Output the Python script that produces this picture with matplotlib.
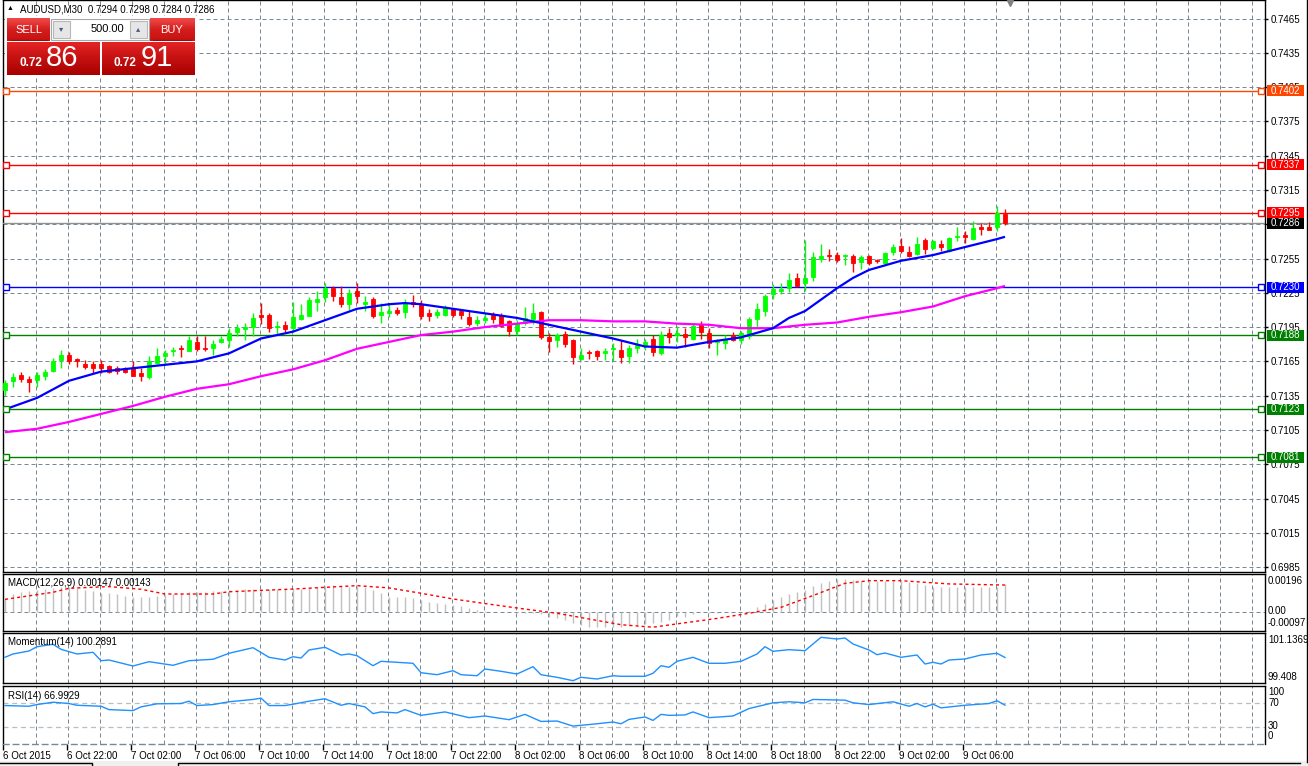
import numpy as np
import matplotlib
matplotlib.use('Agg')
import matplotlib.pyplot as plt
from matplotlib.transforms import blended_transform_factory
from matplotlib.patches import Rectangle
from matplotlib.colors import LinearSegmentedColormap

# ---------------- DATA (AUDUSD, M30) ----------------
opens = [
    .7140, .7148, .7153, .7150, .7149, .7152, .7157, .7166, .7171, .7167,
    .7163, .7163, .7163, .7161, .7159, .7159, .7159, .7155, .7151, .7164,
    .7170, .7174, .7177, .7174, .7182, .7177, .7177, .7182, .7184, .7191,
    .7193, .7195, .7206, .7206, .7195, .7197, .7194, .7202, .7205, .7217,
    .7221, .7229, .7221, .7215, .7227, .7215, .7220, .7206, .7207, .7210,
    .7208, .7217, .7215, .7207, .7206, .7206, .7211, .7209, .7204, .7199,
    .7201, .7206, .7205, .7200, .7192, .7199, .7202, .7208, .7186, .7184,
    .7189, .7184, .7167, .7173, .7174, .7172, .7176, .7175, .7170, .7177,
    .7179, .7185, .7172, .7190, .7188, .7189, .7185, .7198, .7190, .7182,
    .7181, .7188, .7184, .7187, .7202, .7209, .7224, .7227, .7229, .7238,
    .7234, .7239, .7255, .7258, .7258, .7257, .7257, .7252, .7257, .7254,
    .7251, .7261, .7266, .7261, .7259, .7271, .7264, .7268, .7262, .7274,
    .7276, .7272, .7283, .7283, .7283, .7294]
highs = [
    .7149, .7155, .7156, .7152, .7156, .7158, .7168, .7175, .7173, .7168,
    .7166, .7165, .7166, .7162, .7161, .7160, .7165, .7159, .7170, .7177,
    .7175, .7178, .7179, .7187, .7187, .7187, .7184, .7187, .7194, .7198,
    .7199, .7207, .7216, .7207, .7200, .7200, .7217, .7215, .7221, .7227,
    .7234, .7231, .7231, .7228, .7234, .7222, .7221, .7216, .7216, .7213,
    .7220, .7223, .7219, .7211, .7211, .7214, .7212, .7211, .7209, .7205,
    .7207, .7208, .7207, .7201, .7201, .7213, .7216, .7209, .7190, .7190,
    .7192, .7185, .7177, .7175, .7175, .7177, .7181, .7184, .7179, .7185,
    .7185, .7188, .7192, .7194, .7196, .7194, .7199, .7200, .7194, .7185,
    .7188, .7191, .7192, .7204, .7216, .7224, .7233, .7234, .7242, .7242,
    .7271, .7261, .7268, .7263, .7261, .7259, .7259, .7258, .7258, .7255,
    .7261, .7268, .7273, .7266, .7274, .7273, .7271, .7271, .7274, .7283,
    .7279, .7288, .7286, .7287, .7301, .7298]
lows = [
    .7135, .7143, .7147, .7138, .7143, .7149, .7156, .7159, .7163, .7160,
    .7158, .7155, .7155, .7155, .7154, .7155, .7152, .7148, .7150, .7163,
    .7162, .7170, .7169, .7174, .7174, .7174, .7171, .7181, .7178, .7187,
    .7184, .7187, .7198, .7191, .7188, .7191, .7191, .7201, .7205, .7209,
    .7217, .7218, .7213, .7210, .7216, .7209, .7203, .7199, .7204, .7206,
    .7203, .7213, .7202, .7200, .7203, .7205, .7204, .7202, .7196, .7196,
    .7199, .7199, .7195, .7187, .7188, .7197, .7198, .7185, .7173, .7178,
    .7178, .7163, .7166, .7167, .7166, .7166, .7165, .7164, .7164, .7172,
    .7175, .7170, .7171, .7181, .7182, .7178, .7184, .7185, .7177, .7171,
    .7176, .7183, .7180, .7185, .7195, .7205, .7220, .7224, .7226, .7230,
    .7227, .7235, .7252, .7253, .7252, .7249, .7243, .7246, .7249, .7251,
    .7250, .7258, .7260, .7256, .7258, .7259, .7263, .7262, .7261, .7270,
    .7269, .7271, .7276, .7280, .7279, .7284]
closes = [
    .7146, .7151, .7150, .7147, .7153, .7156, .7165, .7171, .7165, .7165,
    .7160, .7159, .7159, .7156, .7157, .7156, .7152, .7152, .7165, .7170,
    .7172, .7175, .7176, .7184, .7176, .7176, .7180, .7185, .7190, .7194,
    .7195, .7203, .7204, .7194, .7196, .7193, .7204, .7206, .7219, .7220,
    .7229, .7222, .7215, .7225, .7222, .7217, .7205, .7208, .7209, .7207,
    .7216, .7215, .7205, .7205, .7208, .7213, .7206, .7206, .7198, .7201,
    .7203, .7202, .7196, .7192, .7199, .7203, .7207, .7186, .7183, .7188,
    .7180, .7169, .7171, .7172, .7170, .7174, .7177, .7169, .7177, .7179,
    .7182, .7173, .7188, .7186, .7190, .7186, .7196, .7191, .7181, .7183,
    .7185, .7184, .7190, .7202, .7211, .7222, .7228, .7228, .7236, .7231,
    .7238, .7256, .7257, .7257, .7254, .7258, .7251, .7256, .7251, .7253,
    .7260, .7265, .7262, .7257, .7268, .7263, .7270, .7265, .7273, .7275,
    .7274, .7282, .7281, .7280, .7295, .7286]

# moving averages (read at sample bars)
ma_fast_bars = [0, 4, 8, 12, 16, 20, 24, 28, 32, 36, 40, 44, 48, 50, 52, 56, 60, 64, 68, 72,
                76, 80, 84, 88, 92, 96, 98, 100, 102, 104, 106, 108, 112, 116, 120, 124, 125]
ma_fast = [.7123, .7133, .7148, .7156, .7159, .7162, .7165, .7172, .7185, .7191, .7201, .7211,
           .7215, .7216, .7215, .7211, .7207, .7203, .7197, .7191, .7185, .7178, .7177, .7182,
           .7186, .7194, .7203, .7209, .7219, .7229, .7238, .7245, .7253, .7258, .7265, .7272, .7274]
ma_slow_bars = [0, 4, 8, 12, 16, 20, 24, 28, 32, 36, 40, 44, 48, 52, 56, 60, 64, 68, 72, 76,
                80, 84, 88, 92, 96, 100, 104, 108, 112, 116, 120, 124, 125]
ma_slow = [.7103, .7106, .7112, .7119, .7126, .7134, .7141, .7145, .7152, .7158, .7166, .7176,
           .7182, .7188, .7191, .7195, .7198, .7201, .7201, .7200, .7200, .7198, .7197, .7194,
           .7194, .7197, .7199, .7204, .7208, .7213, .7222, .7229, .7231]

# horizontal levels
levels = [0.7402, 0.7337, 0.7295, 0.7230, 0.7188, 0.7123, 0.7081]
level_colors = ['#FF4500', '#FF0000', '#FF0000', '#0000FF', '#008000', '#008000', '#008000']
bid_price = 0.7286
price_ticks = [0.6985, 0.7015, 0.7045, 0.7075, 0.7105, 0.7135, 0.7165, 0.7195, 0.7225,
               0.7255, 0.7285, 0.7315, 0.7345, 0.7375, 0.7405, 0.7435, 0.7465]

# MACD (12,26,9)
macd_main = [
    .00068, .00096, .00108, .00114, .00117, .00121, .00126, .00131, .00131, .00126,
    .00117, .00112, .00103, .00100, .00094, .00086, .00082, .00082, .00082, .00086,
    .00089, .00096, .00100, .00107, .00108, .00108, .00112, .00114, .00117, .00117,
    .00121, .00121, .00122, .00121, .00121, .00122, .00123, .00123, .00128, .00131,
    .00140, .00145, .00140, .00135, .00140, .00131, .00117, .00100, .00082, .00079,
    .00079, .00075, .00065, .00053, .00047, .00042, .00037, .00032, .00021, .00012,
    .00007, .00004, .00000, .00000, -.00002, -.00002, -.00004, -.00009, -.00026, -.00032,
    -.00039, -.00054, -.00065, -.00075, -.00079, -.00079, -.00075, -.00075, -.00070, -.00067,
    -.00061, -.00058, -.00053, -.00039, -.00018, -.00023, -.00009, .00000, -.00002, -.00002,
    .00000, .00002, .00003, .00005, .00026, .00044, .00065, .00079, .00096, .00105,
    .00119, .00137, .00154, .00166, .00175, .00175, .00170, .00166, .00166, .00163,
    .00163, .00163, .00163, .00158, .00152, .00145, .00135, .00135, .00135, .00131,
    .00135, .00135, .00135, .00135, .00135, .00147]
macd_sig_bars = [0, 6, 8, 13, 17, 20, 26, 28, 36, 40, 44, 48, 52, 56, 61, 65, 69, 73, 77, 81,
                 89, 93, 97, 101, 105, 108, 112, 118, 125]
macd_sig = [.00068, .00105, .00126, .00135, .00121, .00096, .00096, .00108, .00122, .00131,
            .00140, .00128, .00100, .00070, .00040, .00017, -.00005, -.00035, -.00065, -.00078,
            -.00032, -.00005, .00026, .00088, .00152, .00166, .00166, .00149, .00143]

# Momentum (14)
mom_bars = [0, 1, 3, 4, 6, 7, 9, 11, 12, 13, 16, 18, 21, 23, 26, 28, 31, 33, 35, 36, 37, 38,
            40, 42, 43, 44, 46, 47, 49, 51, 52, 54, 56, 57, 59, 60, 62, 64, 66, 67, 69, 71, 72,
            74, 76, 77, 80, 81, 82, 83, 84, 86, 88, 90, 92, 94, 95, 96, 98, 100, 102, 104, 105,
            106, 108, 109, 110, 112, 114, 115, 116, 117, 118, 120, 122, 124, 125]
mom_vals = [100.297, 100.411, 100.515, 100.663, 100.746, 100.573, 100.411, 100.470, 100.179,
            100.203, 99.996, 100.145, 100.020, 100.179, 100.228, 100.435, 100.629, 100.297,
            100.203, 100.317, 100.272, 100.549, 100.643, 100.376, 100.411, 100.352, 100.006,
            100.158, 100.124, 100.089, 99.764, 99.695, 99.833, 99.695, 99.660, 99.892, 99.813,
            99.719, 99.972, 99.695, 99.605, 99.488, 99.605, 99.546, 99.660, 99.640, 99.640,
            99.743, 100.006, 99.951, 100.158, 100.297, 100.089, 100.089, 100.158, 100.411,
            100.663, 100.504, 100.560, 100.525, 100.988, 100.929, 100.964, 100.757, 100.549,
            100.387, 100.445, 100.297, 100.376, 100.065, 100.124, 100.065, 100.203, 100.238,
            100.376, 100.435, 100.2891]

# RSI (14)
rsi_bars = [0, 3, 4, 6, 8, 9, 12, 13, 16, 17, 19, 22, 23, 24, 26, 28, 31, 32, 33, 35, 36, 38,
            40, 42, 43, 45, 46, 47, 49, 50, 52, 55, 58, 60, 63, 65, 67, 69, 71, 74, 76, 77, 78,
            80, 81, 82, 83, 85, 86, 88, 91, 93, 96, 98, 100, 101, 105, 106, 108, 111, 113, 114,
            115, 116, 117, 120, 123, 124, 125]
rsi_vals = [66.3, 65.1, 68.0, 72.0, 69.8, 66.8, 65.1, 59.3, 57.6, 64.0, 69.3, 69.8, 73.8, 66.3,
            68.0, 72.8, 76.8, 79.1, 66.3, 66.3, 68.6, 73.8, 78.0, 66.8, 69.8, 64.0, 52.4, 55.3,
            53.6, 59.3, 49.4, 55.3, 45.4, 48.3, 41.9, 51.1, 38.9, 39.6, 30.9, 34.9, 37.9, 34.9,
            42.4, 46.6, 40.7, 51.1, 49.4, 50.1, 55.3, 45.4, 48.3, 61.1, 71.0, 72.8, 71.0, 76.8,
            75.6, 71.0, 68.0, 72.8, 65.1, 69.8, 64.0, 68.6, 62.3, 66.8, 69.8, 74.5, 66.9929]

x_labels = ['6 Oct 2015', '6 Oct 22:00', '7 Oct 02:00', '7 Oct 06:00', '7 Oct 10:00',
            '7 Oct 14:00', '7 Oct 18:00', '7 Oct 22:00', '8 Oct 02:00', '8 Oct 06:00',
            '8 Oct 10:00', '8 Oct 14:00', '8 Oct 18:00', '8 Oct 22:00', '9 Oct 02:00',
            '9 Oct 06:00']
header_text = 'AUDUSD,M30  0.7294 0.7298 0.7284 0.7286'

# ---------------- FIGURE ----------------
plt.rcParams['font.family'] = ['Liberation Sans', 'DejaVu Sans']
plt.rcParams['font.size'] = 7

W, H = 1308, 766
fig = plt.figure(figsize=(W / 100, H / 100), dpi=100)
fig.patch.set_facecolor('white')


def rect(x0, y0, x1, y1):
    return [x0 / W, 1 - y1 / H, (x1 - x0) / W, (y1 - y0) / H]


XL = (-0.25, 157.5)
GRID_C = '#778899'
GRID_LS = (0, (4, 3))
grid_x = [4 * k - 0.15 for k in range(1, 40)]


def style(a):
    a.set_xlim(*XL)
    for s in a.spines.values():
        s.set_color('black')
        s.set_linewidth(1)
    a.set_xticks([])
    a.set_yticks([])
    for gx in grid_x:
        a.axvline(gx, color=GRID_C, lw=0.72, ls=GRID_LS, zorder=0)


# ---- main price panel ----
ax = fig.add_axes(rect(3, 0, 1265, 572))
style(ax)
ax.set_ylim(0.698069, 0.748119)
for t in price_ticks:
    ax.axhline(t, color=GRID_C, lw=0.72, ls=GRID_LS, zorder=0)
ax.set_yticks(price_ticks)
ax.set_yticklabels([f'{t:.4f}' for t in price_ticks])
ax.tick_params(axis='y', left=False, right=True, labelleft=False, labelright=True,
               length=2.5, width=1, direction='out', pad=1.5, labelsize=7)

o = np.array(opens); h = np.array(highs); l = np.array(lows); c = np.array(closes)
idx = np.arange(len(o))
cols = np.where(c >= o, '#00FF00', '#FF0000')
ax.vlines(idx, l, h, colors=cols, lw=1.0, zorder=4)
ax.bar(idx, np.abs(c - o), bottom=np.minimum(o, c), width=0.62, color=cols,
       edgecolor=cols, linewidth=0.6, zorder=5)

ax.plot(ma_slow_bars, ma_slow, color='#FF00FF', lw=1.6, zorder=6, solid_capstyle='butt')
ax.plot(ma_fast_bars, ma_fast, color='#0000FF', lw=1.6, zorder=6, solid_capstyle='butt')

trans = blended_transform_factory(ax.transAxes, ax.transData)
ax.axhline(bid_price, color='#909090', lw=1.0, zorder=3)
for lv, col in zip(levels, level_colors):
    ax.axhline(lv, color=col, lw=1.0, zorder=3)
    ax.plot([0.125, 157.0], [lv, lv], ls='none', marker='s', ms=4, mfc='white', mec=col,
            mew=1.0, zorder=7)

box_h = 11 * 0.0000875
for lv, col in zip(levels + [bid_price], level_colors + ['#000000']):
    ax.add_patch(Rectangle((0.0016, lv - box_h / 2), 0.0293, box_h, transform=trans,
                           facecolor=col, edgecolor='none', clip_on=False, zorder=20))
    # shift to axes-right area
for p in list(ax.patches)[-len(levels) - 1:]:
    p.set_x(1.0016)
for lv, col in zip(levels + [bid_price], level_colors + ['#000000']):
    ax.text(1.0042, lv, f'{lv:.4f}', transform=trans, color='white', fontsize=7,
            va='center', ha='left', clip_on=False, zorder=21)

# ---- MACD panel ----
axm = fig.add_axes(rect(3, 574, 1265, 631))
style(axm)
axm.set_ylim(-0.00098, 0.00201)
axm.axhline(0, color=GRID_C, lw=0.72, ls=GRID_LS, zorder=0)
axm.vlines(idx, 0, macd_main, colors='#C0C0C0', lw=1.0, zorder=2)
axm.plot(macd_sig_bars, macd_sig, color='#FF0000', lw=1.0, ls=(0, (2.2, 2.2)), zorder=3)

# ---- Momentum panel ----
axo = fig.add_axes(rect(3, 633, 1265, 683))
style(axo)
axo.set_ylim(99.408, 101.1369)
axo.plot(mom_bars, mom_vals, color='#1E90FF', lw=1.0, zorder=3)

# ---- RSI panel ----
axr = fig.add_axes(rect(3, 686, 1265, 744))
style(axr)
axr.set_ylim(0, 100)
for lv in (70, 30):
    axr.axhline(lv, color='#BDBDBD', lw=0.9, ls=GRID_LS, zorder=0)
axr.plot(rsi_bars, rsi_vals, color='#1E90FF', lw=1.0, zorder=3)
axr.spines['bottom'].set_linestyle(GRID_LS)
axr.spines['bottom'].set_color(GRID_C)
tick_pos = [8 * k - 0.2 for k in range(len(x_labels))]
axr.set_xticks(tick_pos)
axr.set_xticklabels(x_labels)
axr.tick_params(axis='x', bottom=True, length=4, width=1, direction='out', pad=1,
                labelsize=7)
for lab in axr.get_xticklabels():
    lab.set_ha('left')

# ---- overlay for decorations ----
ov = fig.add_axes([0, 0, 1, 1], zorder=30)
ov.set_xlim(0, W)
ov.set_ylim(H, 0)
ov.axis('off')
ov.patch.set_alpha(0)


def ftext(x, y, s, **kw):
    kw.setdefault('fontsize', 7)
    kw.setdefault('va', 'center')
    ov.text(x, y, s, **kw)


# indicator names and scales
ftext(8, 583, 'MACD(12,26,9) 0.00147 0.00143')
ftext(8, 642, 'Momentum(14) 100.2891')
ftext(8, 696, 'RSI(14) 66.9929')
for y, s in [(581, '0.00196'), (611, '0.00'), (623, '-0.00097'), (640, '101.1369'),
             (677, '99.408'), (692, '100'), (703, '70'), (726, '30'), (736, '0')]:
    ftext(1268, y, s)

# header
ftext(7, 9, '\u25B2', fontsize=5)
ftext(20, 9, header_text)

# chart shift marker
ov.plot([1010], [3], marker='v', color='#808080', ms=5, ls='none')

# window border and bottom tabs
ov.plot([1306.5, 1306.5], [0, 762], color='black', lw=1)
ov.add_patch(Rectangle((0, 761), W, 5, facecolor='#F0F0F0', edgecolor='none'))
ov.plot([0, 92, 92], [763, 763, 766], color='black', lw=1)
ov.plot([178, 178, 1300], [766, 763, 763], color='black', lw=1)

# trade widget
ov.add_patch(Rectangle((5, 16), 193, 62, facecolor='white', edgecolor='none'))
red_small = LinearSegmentedColormap.from_list('rs', ['#F24A4A', '#D41E1E', '#C81010'])
red_big = LinearSegmentedColormap.from_list('rb', ['#E42424', '#C41010', '#A80000'])
grad = np.linspace(0, 1, 64).reshape(-1, 1)
for (x0, x1, y0, y1, cm) in [(7, 50, 18, 41, red_small), (150, 195, 18, 41, red_small),
                             (7, 100, 42, 75, red_big), (102, 195, 42, 75, red_big)]:
    ov.imshow(grad, extent=(x0, x1, y1, y0), origin='upper', cmap=cm, aspect='auto',
              interpolation='bilinear', zorder=2)
ov.set_xlim(0, W)
ov.set_ylim(H, 0)
ov.plot([11, 47], [40, 40], color='#901010', lw=0.8, zorder=3)
ov.plot([153, 191], [40, 40], color='#901010', lw=0.8, zorder=3)
ov.add_patch(Rectangle((51, 19), 98, 21, facecolor='white', edgecolor='#A8A8A8', lw=0.8,
                       zorder=3))
ov.add_patch(Rectangle((53, 21), 17, 17, facecolor='#E6E6E6', edgecolor='#B8B8B8', lw=0.8,
                       zorder=4))
ov.add_patch(Rectangle((130, 21), 17, 17, facecolor='#E6E6E6', edgecolor='#B8B8B8', lw=0.8,
                       zorder=4))
ftext(61.5, 29.5, '\u25BE', fontsize=6, ha='center', color='#4A5A80', zorder=5)
ftext(138.5, 29.5, '\u25B4', fontsize=6, ha='center', color='#4A5A80', zorder=5)
ftext(124, 29.5, '500.00', fontsize=8, ha='right', color='black', zorder=5)
ftext(28.5, 30, 'SELL', fontsize=8, ha='center', color='white', zorder=5)
ftext(172, 30, 'BUY', fontsize=8, ha='center', color='white', zorder=5)
ftext(19, 63.5, '0.72', fontsize=8.5, fontweight='bold', color='white', zorder=5)
ftext(46, 58, '86', fontsize=21, color='white', zorder=5)
ftext(113, 63.5, '0.72', fontsize=8.5, fontweight='bold', color='white', zorder=5)
ftext(141, 58, '91', fontsize=21, color='white', zorder=5)

fig.savefig('out.png', dpi=100, facecolor='white')
